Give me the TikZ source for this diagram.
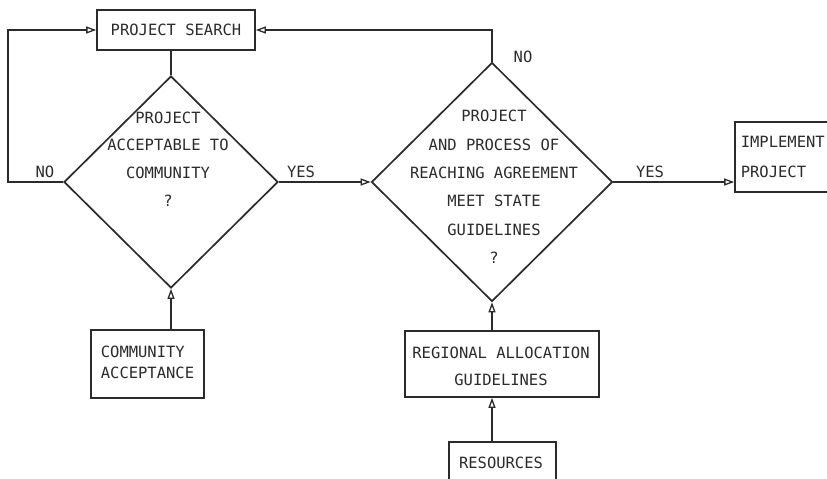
\documentclass[tikz,border=0pt]{standalone}
\usepackage{fontspec}
\setmonofont{DejaVu Sans Mono}
\usetikzlibrary{shapes.geometric,arrows.meta}
\definecolor{ink}{HTML}{2B2B2B}

\begin{document}
\begin{tikzpicture}[x=1pt,y=-1pt,
  line width=1.6pt, draw=ink,
  txt/.style={font=\ttfamily\fontsize{15.5}{#1}\selectfont, text=ink, inner sep=0pt, align=center},
  txt/.default=28,
  box/.style={draw=ink, rectangle, inner sep=0pt, line width=1.6pt},
  decision/.style={draw=ink, diamond, inner sep=0pt, line width=1.7pt},
  flow/.style={draw=ink, line width=1.5pt, -{Triangle[open,length=10pt,width=7pt,line width=1.3pt]}},
  link/.style={draw=ink, line width=1.5pt}]

\useasboundingbox (0,0) rectangle (827,479);
\clip (0,0) rectangle (827,479);

% boxes
\node[box, minimum width=158pt, minimum height=40pt, txt] (search) at (176,30) {PROJECT SEARCH};
\node[box, minimum width=113pt, minimum height=68pt] (comm) at (147.5,364) {};
\node[txt=21, align=left] (commtxt) at (147.5,362) {COMMUNITY\\ACCEPTANCE};
\node[box, minimum width=194pt, minimum height=66pt] (region) at (502,364) {};
\node[txt=27] (regiontxt) at (501,366) {REGIONAL ALLOCATION\\GUIDELINES};
\node[box, minimum width=107pt, minimum height=50pt] (res) at (502.5,467) {};
\node[txt] (restxt) at (501,463) {RESOURCES};
\node[box, minimum width=100pt, minimum height=70pt] (impl) at (785,157) {};
\node[txt=30, align=left, anchor=west] (impltxt) at (740,157) {IMPLEMENT\\PROJECT};

% decisions
\node[decision, minimum width=214pt, minimum height=212pt] (d1) at (171,182) {};
\node[txt=27.7] (d1txt) at (168,159) {PROJECT\\ACCEPTABLE TO\\COMMUNITY\\?};
\node[decision, minimum width=241pt, minimum height=239pt] (d2) at (492,182) {};
\node[txt=28.4] (d2txt) at (494,187) {PROJECT\\AND PROCESS OF\\REACHING AGREEMENT\\MEET STATE\\GUIDELINES\\?};

% branch labels
\node[txt] (no1) at (45,172) {NO};
\node[txt] (yes1) at (301,172) {YES};
\node[txt] (no2) at (523,57) {NO};
\node[txt] (yes2) at (650,172) {YES};

% connectors
\coordinate (loopL) at (8,30);
\draw[link] (search.south -| d1.north) -- (d1.north);
\draw[flow] (d1.west) -| (loopL) -- (search.west);
\draw[flow] (d1.east) -- (d2.west);
\draw[flow] (d2.north) |- (search.east);
\draw[flow] (d2.east) -- (d2.east -| impl.west);
\draw[flow] (comm.north -| d1.south) -- (d1.south);
\draw[flow] (region.north -| d2.south) -- (d2.south);
\draw[flow] (res.north -| d2.south) -- (region.south -| d2.south);
\end{tikzpicture}
\end{document}
